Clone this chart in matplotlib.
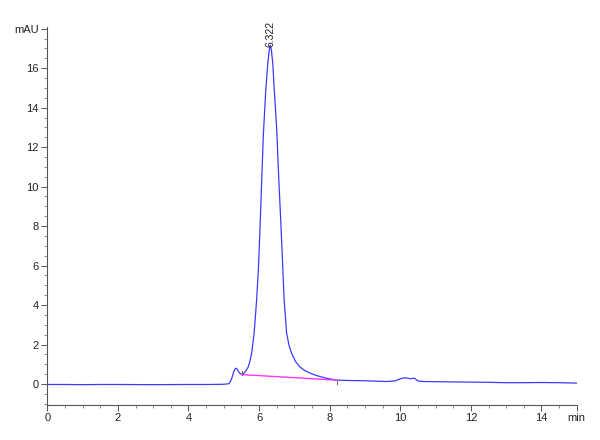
import numpy as np
import matplotlib
matplotlib.use('Agg')
import matplotlib.pyplot as plt
from matplotlib.ticker import MultipleLocator, FixedLocator

plt.rcParams['font.family'] = ['Liberation Sans', 'DejaVu Sans']

# chromatogram trace (min, mAU)
time = [0.0, 0.5, 1.0, 1.5, 2.0, 3.0, 4.0, 4.6, 5.0, 5.15, 5.22, 5.28, 5.33,
        5.37, 5.42, 5.47, 5.51, 5.57, 5.63, 5.69, 5.74, 5.79, 5.86, 5.93,
        5.98, 6.02, 6.06, 6.12, 6.19, 6.25, 6.29, 6.32, 6.35, 6.39, 6.43,
        6.50, 6.56, 6.60, 6.65, 6.71, 6.78, 6.85, 6.92, 7.03, 7.16, 7.30,
        7.44, 7.65, 7.9, 8.2, 8.6, 9.0, 9.3, 9.6, 9.85, 10.05, 10.15, 10.28,
        10.4, 10.5, 10.65, 11.0, 11.5, 12.0, 12.5, 13.0, 13.5, 14.0, 14.5, 15.0]
signal = [-0.02, -0.02, -0.03, -0.02, -0.02, -0.03, -0.02, -0.02, -0.01, 0.02,
          0.25, 0.62, 0.8, 0.78, 0.62, 0.52, 0.5, 0.55, 0.68, 0.86, 1.15, 1.57,
          2.58, 4.25, 5.8, 7.6, 9.6, 12.6, 14.9, 16.3, 16.95, 17.15, 16.9,
          16.2, 14.9, 12.9, 10.3, 8.8, 6.8, 4.25, 2.58, 1.95, 1.57, 1.15, 0.86,
          0.68, 0.56, 0.42, 0.3, 0.2, 0.18, 0.17, 0.15, 0.13, 0.16, 0.3, 0.32,
          0.27, 0.3, 0.16, 0.13, 0.12, 0.11, 0.1, 0.09, 0.07, 0.07, 0.08, 0.07,
          0.05]

# integration baseline
base_t = [5.51, 8.20]
base_y = [0.48, 0.20]

peak_rt = 6.322
peak_h = 17.15

xticks = [0, 2, 4, 6, 8, 10, 12, 14, 15]
xlabels = ['0', '2', '4', '6', '8', '10', '12', '14', 'min']
yticks = [0, 2, 4, 6, 8, 10, 12, 14, 16, 18]
ylabels = ['0', '2', '4', '6', '8', '10', '12', '14', '16', 'mAU']

fig = plt.figure(figsize=(6, 4.4), dpi=100)
ax = fig.add_axes([0.0788, 0.0795, 0.8825, 0.859])

ax.plot(time, signal, color='#3a3aff', lw=0.9)
ax.plot(base_t, base_y, color='#ff33ff', lw=1.0)
# baseline start/end markers
ax.plot([base_t[0], base_t[0]], [base_y[0], base_y[0] + 0.2], color='#666666', lw=0.7)
ax.plot([base_t[1], base_t[1]], [base_y[1], base_y[1] - 0.2], color='#666666', lw=0.7)

ax.text(peak_rt, peak_h - 0.1, '%.3f' % peak_rt, rotation=90, ha='center', va='bottom',
        fontsize=7.5, color='#222222')

ax.set_xlim(0, 15)
ax.set_ylim(-1.06, 18.08)

ax.xaxis.set_major_locator(FixedLocator(xticks))
ax.set_xticklabels(xlabels)
ax.yaxis.set_major_locator(FixedLocator(yticks))
ax.set_yticklabels(ylabels)
ax.xaxis.set_minor_locator(MultipleLocator(0.5))
ax.yaxis.set_minor_locator(MultipleLocator(0.5))

for s in ['top', 'right']:
    ax.spines[s].set_visible(False)
for s in ['left', 'bottom']:
    ax.spines[s].set_color('#555555')
    ax.spines[s].set_linewidth(0.8)

ax.tick_params(which='major', direction='out', length=4, width=0.7, color='#555555',
               labelsize=8, labelcolor='#222222', pad=2)
ax.tick_params(which='minor', direction='out', length=2, width=0.6, color='#777777')

plt.savefig('out.png', dpi=100)
